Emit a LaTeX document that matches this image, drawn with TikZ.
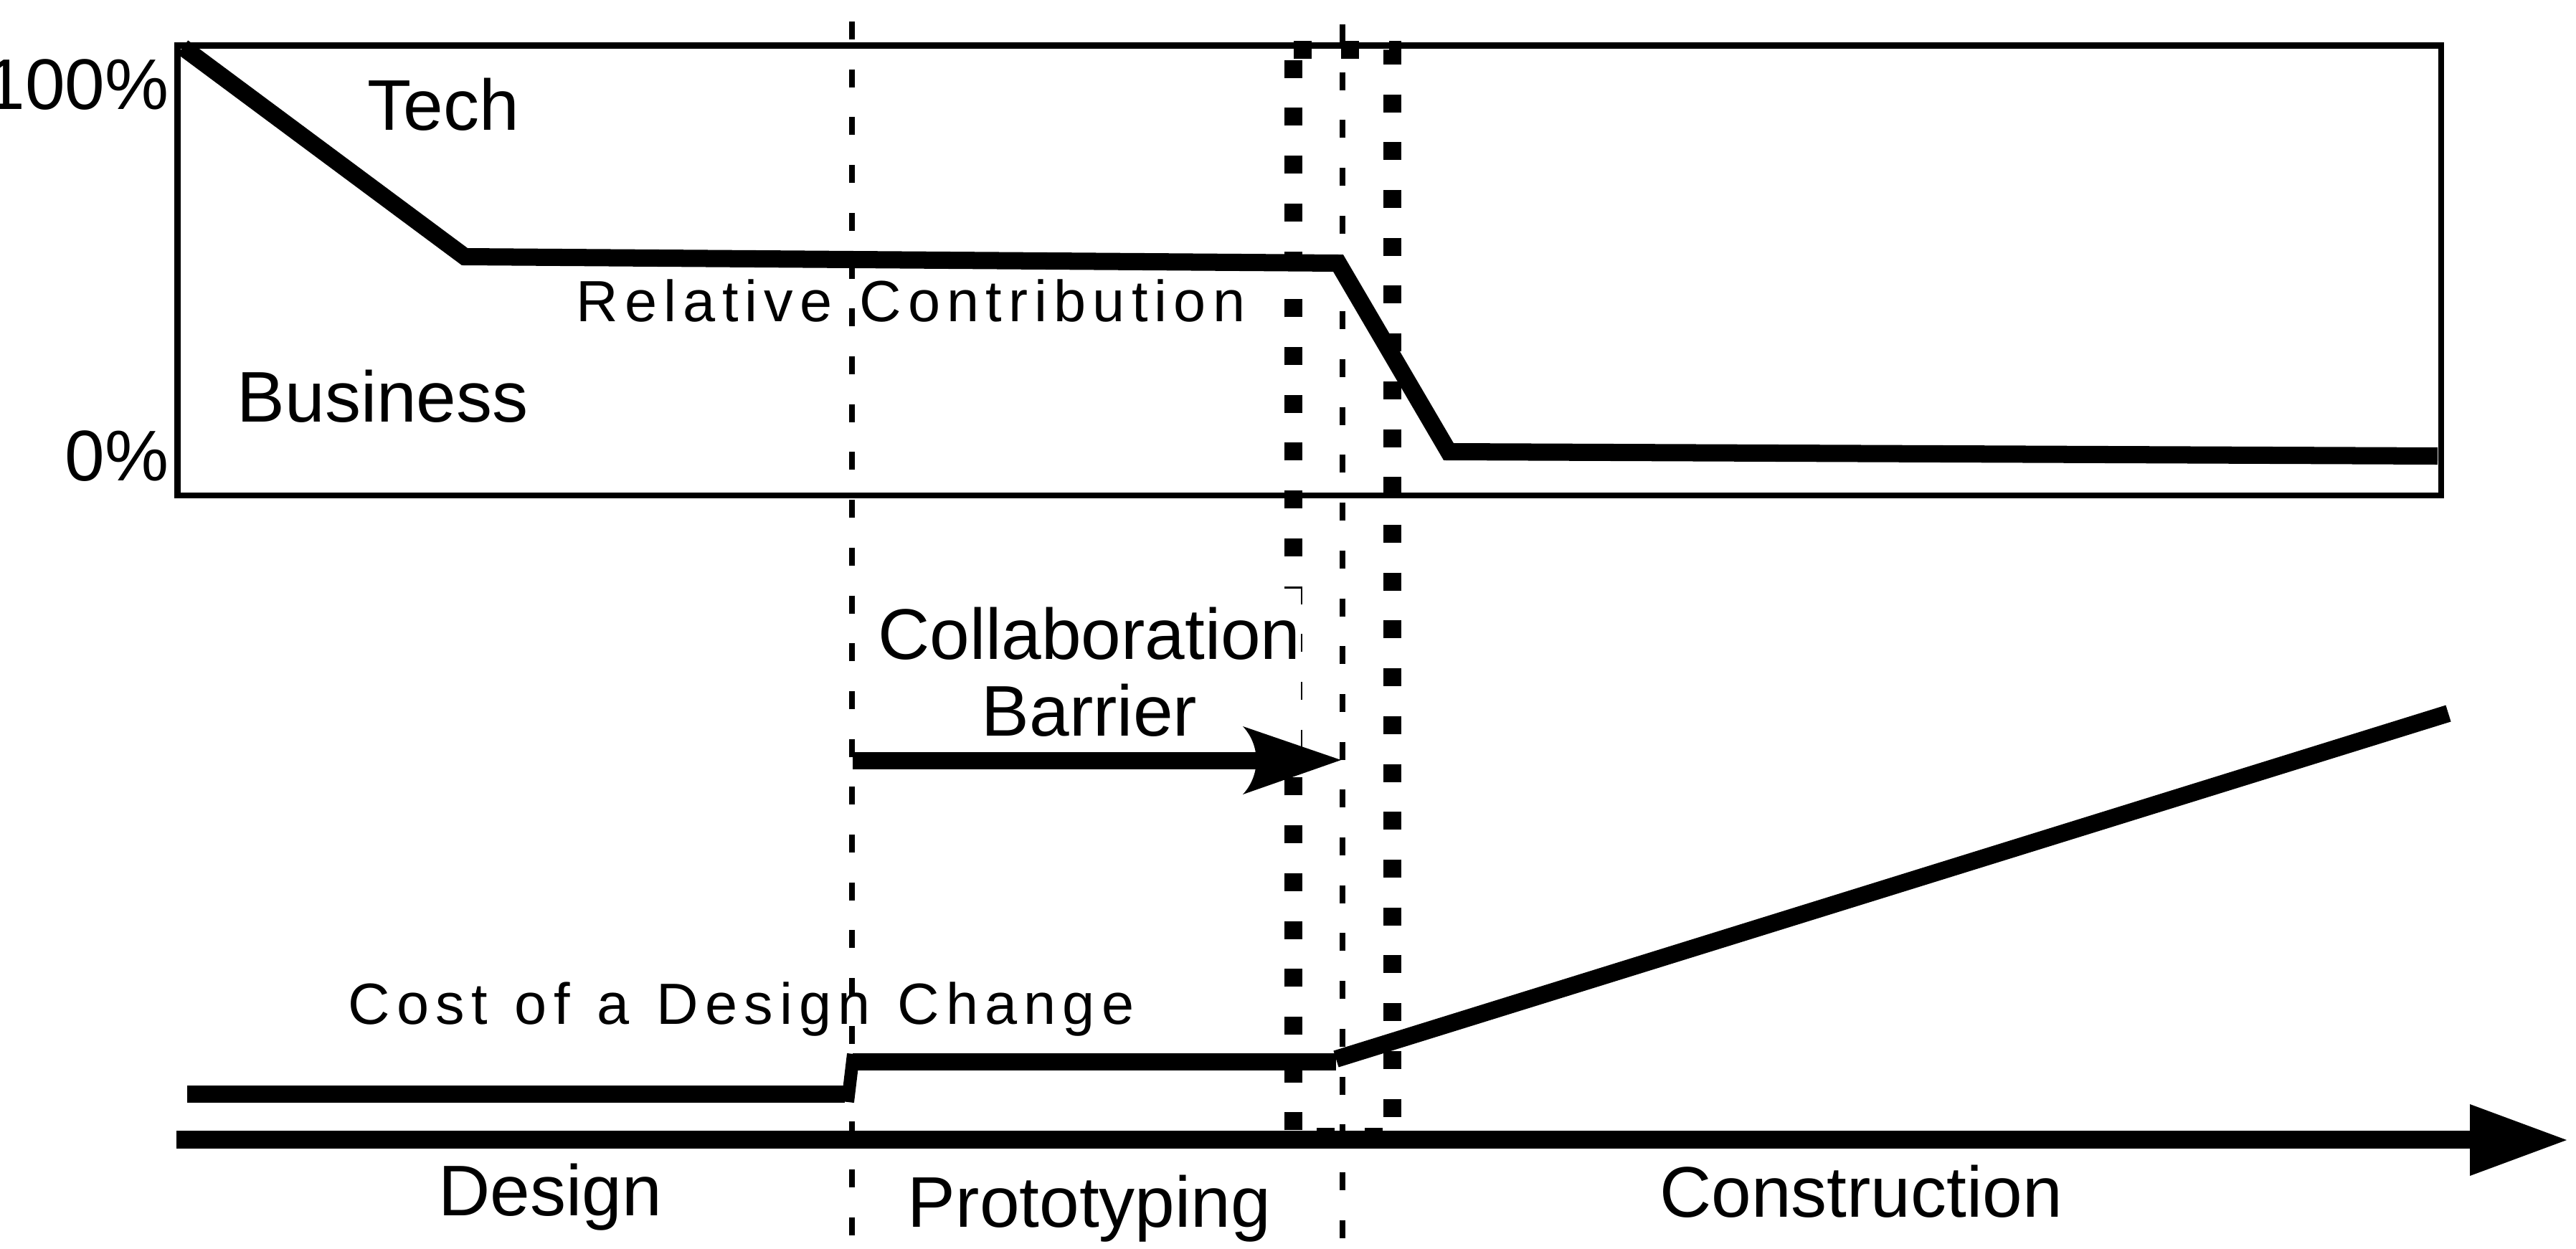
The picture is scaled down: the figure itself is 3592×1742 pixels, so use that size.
\documentclass[tikz,border=0pt]{standalone}
\usepackage{fontspec}
\setmainfont{Liberation Sans}
\newcommand{\wsp}{\hspace{0.063cm} }
\begin{document}
\begin{tikzpicture}[x=0.01cm,y=-0.01cm,
  big/.style={font=\fontsize{28.45pt}{30.44pt}\selectfont, inner sep=0pt},
  spaced/.style={font=\fontsize{23.05pt}{26pt}\selectfont\addfontfeature{LetterSpace=11.3}, inner sep=0pt},
  frame/.style={line width=2.28pt},
  heavy/.style={line width=6.83pt, line cap=butt},
  phase/.style={line width=2.28pt, dash pattern=on 0.25cm off 0.4167cm},
  barrier/.style={line width=7.11pt, dash pattern=on 0.25cm off 0.4167cm, line cap=butt, line join=miter}]
\useasboundingbox (0,0) rectangle (3592,1742);

% chart frame
\draw[frame] (247.5,63.5) rectangle (3404,691);

% relative contribution curve
\coordinate (t1) at (255,66);
\coordinate (t2) at (648,358);
\coordinate (t3) at (1866,367);
\coordinate (t4) at (2020,630);
\coordinate (t5) at (3399,636);
\draw[heavy, line join=miter] (t1) -- (t2) -- (t3) -- (t4) -- (t5);

% phase separators
\draw[phase] (1188,30) -- (1188,1742);
\draw[phase] (1872,34) -- (1872,1742);

% collaboration barrier band
\draw[barrier] (1803.5,69.5) -- (1941.5,69.5) -- (1941.5,1585.5) -- (1803.5,1585.5) -- cycle;

% text backing
\fill[white] (1224,821) rectangle (1814,1046);
\node[big, anchor=base] (collab) at (1519,919) {Collaboration};
\node[big, anchor=base] (barrier) at (1519,1026) {Barrier};

% barrier arrow
\coordinate (a1) at (1189,1060.5);
\coordinate (a2) at (1752,1060.5);
\coordinate (tip) at (1870,1060);
\draw[heavy] (a1) -- (a2);
\fill (tip) -- (1733,1013) .. controls (1758,1040) and (1758,1081) .. (1733,1108) -- cycle;

% cost of a design change
\coordinate (c1) at (261,1526);
\coordinate (c2) at (1178,1526);
\coordinate (c3) at (1189,1481);
\coordinate (c4) at (1863,1481);
\coordinate (c5) at (1863,1477);
\coordinate (c6) at (3414,995);
\draw[heavy] (c1) -- (c2);
\draw[line width=5.1pt] (1182,1537) -- (1190,1470);
\draw[heavy] (c3) -- (c4);
\draw[heavy] (c5) -- (c6);

% time axis
\coordinate (x0) at (246,1589.5);
\coordinate (x1) at (3446,1589.5);
\draw[line width=7.11pt] (x0) -- (x1);
\fill (3444,1540) -- (3579,1590) -- (3444,1640) -- cycle;

% labels
\node[big, anchor=base east] (p100) at (236,152) {100\%};
\node[big, anchor=base east] (p0) at (236,670) {0\%};
\node[big, anchor=base west] (tech) at (512,181) {Tech};
\node[big, anchor=base west] (biz) at (330,588) {Business};
\node[spaced, anchor=base west] (rel) at (803,448) {Relative\wsp Contribution};
\node[spaced, anchor=base west] (cost) at (485,1428) {Cost\wsp of\wsp a\wsp Design\wsp Change};
\node[big, anchor=base] (design) at (767,1695) {Design};
\node[big, anchor=base] (proto) at (1519,1711) {Prototyping};
\node[big, anchor=base] (constr) at (2595,1697) {Construction};
\end{tikzpicture}
\end{document}
